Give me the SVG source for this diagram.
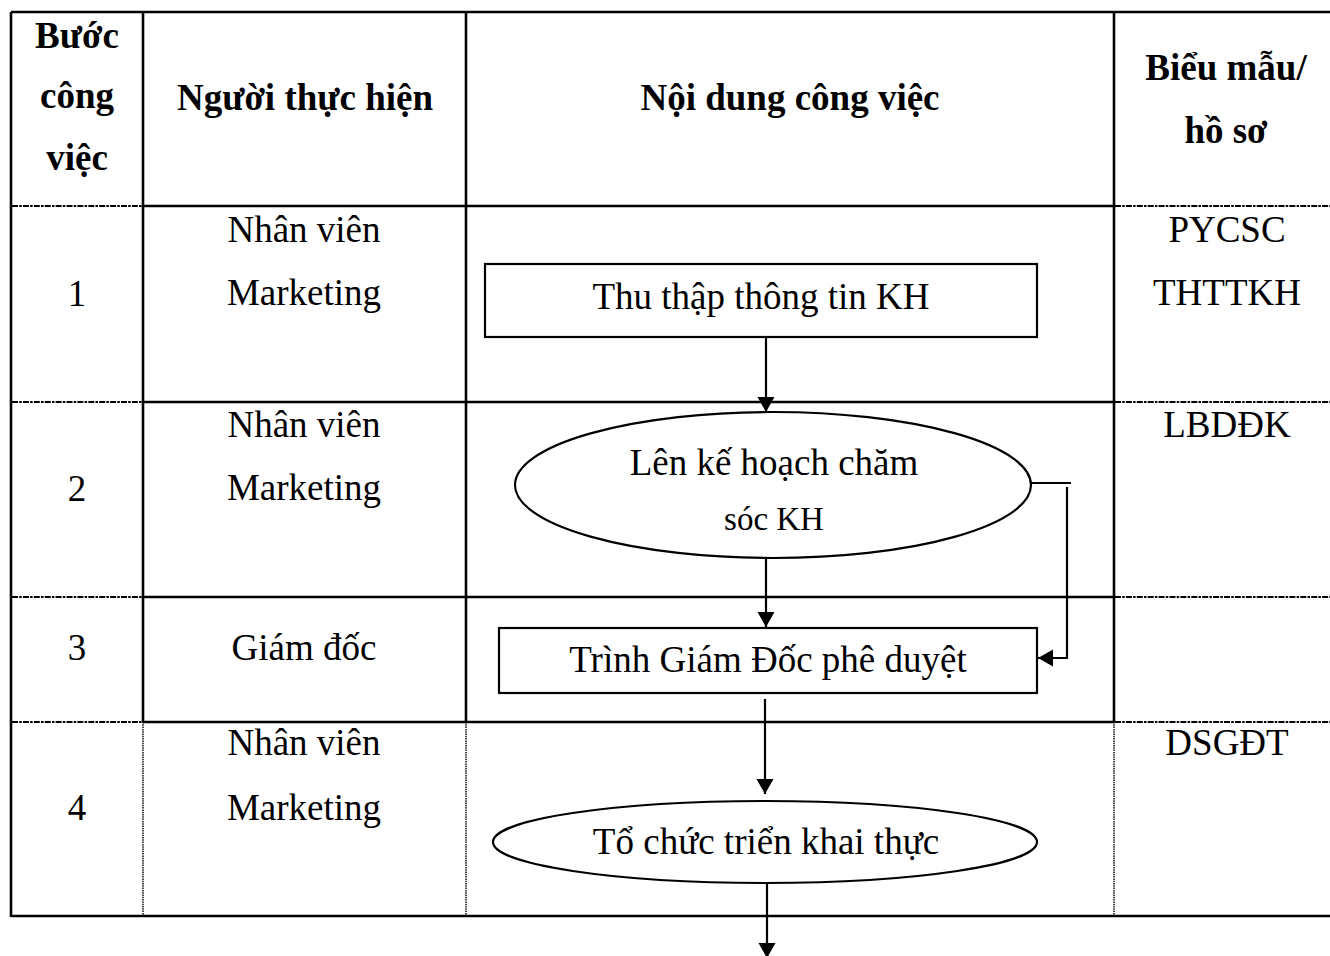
<svg xmlns="http://www.w3.org/2000/svg" width="1330" height="956" viewBox="0 0 1330 956">
  <style>
    text { font-family: "Liberation Serif", "Times New Roman", "DejaVu Serif", serif; fill: #000; text-anchor: middle; }
    .hd { font-size: 37px; font-weight: bold; }
    .tx { font-size: 37px; }
    .sm { font-size: 33px; }
    .solid { stroke: #000; stroke-width: 2.6; fill: none; }
    .dash { stroke: #000; stroke-width: 2.2; stroke-dasharray: 6 1.2 2.5 1.2; fill: none; }
    .dot { stroke: #000; stroke-width: 1.4; stroke-dasharray: 1.5 0.8; fill: none; }
    .shape { stroke: #000; stroke-width: 2.2; fill: #fff; }
    .conn { stroke: #000; stroke-width: 2.2; fill: none; }
  </style>
  <defs>
    <marker id="arrow" markerUnits="userSpaceOnUse" markerWidth="18" markerHeight="18" viewBox="0 0 18 18" refX="16" refY="9" orient="auto">
      <path d="M1 0.5 L16 9 L1 17.5 Z" fill="#000"/>
    </marker>
  </defs>

  <rect width="1330" height="956" fill="#fff"/>

  <!-- table grid -->
  <g id="table">
    <line class="solid" x1="11" y1="12" x2="1330" y2="12"/>
    <line class="solid" x1="11" y1="916" x2="1330" y2="916"/>
    <line class="solid" x1="11" y1="12" x2="11" y2="917"/>
    <line class="solid" x1="143" y1="12" x2="143" y2="722"/>
    <line class="solid" x1="466" y1="12" x2="466" y2="722"/>
    <line class="solid" x1="1114" y1="12" x2="1114" y2="722"/>
    <line class="dot" x1="143" y1="722" x2="143" y2="916"/>
    <line class="dot" x1="466" y1="722" x2="466" y2="916"/>
    <line class="dot" x1="1114" y1="722" x2="1114" y2="916"/>
    <!-- row separators: solid across the middle columns, dashed at the sides -->
    <line class="solid" x1="143" y1="206" x2="1114" y2="206"/>
    <line class="solid" x1="143" y1="402" x2="1114" y2="402"/>
    <line class="solid" x1="143" y1="597" x2="1114" y2="597" stroke-width="3"/>
    <line class="solid" x1="143" y1="722" x2="1114" y2="722" stroke-width="3"/>
    <line class="dash" x1="12" y1="206" x2="142" y2="206"/>
    <line class="dash" x1="12" y1="402" x2="142" y2="402"/>
    <line class="dash" x1="12" y1="597" x2="142" y2="597"/>
    <line class="dash" x1="12" y1="722" x2="142" y2="722"/>
    <line class="dash" x1="1115" y1="206" x2="1330" y2="206"/>
    <line class="dash" x1="1115" y1="402" x2="1330" y2="402"/>
    <line class="dash" x1="1115" y1="597" x2="1330" y2="597"/>
    <line class="dash" x1="1115" y1="722" x2="1330" y2="722"/>
  </g>

  <g id="header">
    <text class="hd" x="77" y="48">Bước</text>
    <text class="hd" x="77" y="108">công</text>
    <text class="hd" x="77" y="170">việc</text>
    <text class="hd" x="305" y="110">Người thực hiện</text>
    <text class="hd" x="790" y="110">Nội dung công việc</text>
    <text class="hd" x="1226" y="80">Biểu mẫu/</text>
    <text class="hd" x="1226" y="143">hồ sơ</text>
  </g>

  <g id="row1">
    <text class="tx" x="77" y="306">1</text>
    <text class="tx" x="304" y="242">Nhân viên</text>
    <text class="tx" x="304" y="305">Marketing</text>
    <text class="tx" x="1227" y="242">PYCSC</text>
    <text class="tx" x="1227" y="305">THTTKH</text>
  </g>
  <g id="row2">
    <text class="tx" x="77" y="501">2</text>
    <text class="tx" x="304" y="437">Nhân viên</text>
    <text class="tx" x="304" y="500">Marketing</text>
    <text class="tx" x="1227" y="437">LBDĐK</text>
  </g>
  <g id="row3">
    <text class="tx" x="77" y="660">3</text>
    <text class="tx" x="304" y="660">Giám đốc</text>
  </g>
  <g id="row4">
    <text class="tx" x="77" y="820">4</text>
    <text class="tx" x="304" y="755">Nhân viên</text>
    <text class="tx" x="304" y="820">Marketing</text>
    <text class="tx" x="1227" y="755">DSGĐT</text>
  </g>

  <!-- flow steps -->
  <g id="step1">
    <rect class="shape" x="485" y="264" width="552" height="73"/>
    <text class="tx" x="761" y="309">Thu thập thông tin KH</text>
  </g>
  <g id="step2">
    <ellipse class="shape" cx="773" cy="485" rx="258" ry="73"/>
    <text class="tx" x="774" y="475">Lên kế hoạch chăm</text>
    <text class="sm" x="774" y="530">sóc KH</text>
  </g>
  <g id="step3">
    <rect class="shape" x="499" y="628" width="538" height="65"/>
    <text class="tx" x="768" y="672">Trình Giám Đốc phê duyệt</text>
  </g>
  <g id="step4">
    <ellipse class="shape" cx="765" cy="842" rx="272" ry="41"/>
    <text class="tx" x="766" y="854">Tổ chức triển khai thực</text>
  </g>

  <g id="connectors">
    <line class="conn" x1="766" y1="338" x2="766" y2="412" marker-end="url(#arrow)"/>
    <line class="conn" x1="766" y1="558" x2="766" y2="627" marker-end="url(#arrow)"/>
    <path class="conn" d="M1031 483 H1071"/>
    <path class="conn" d="M1067 487 V658 H1038" marker-end="url(#arrow)"/>
    <line class="conn" x1="765" y1="699" x2="765" y2="794" marker-end="url(#arrow)"/>
    <line class="conn" x1="767" y1="884" x2="767" y2="958" marker-end="url(#arrow)"/>
  </g>
</svg>
